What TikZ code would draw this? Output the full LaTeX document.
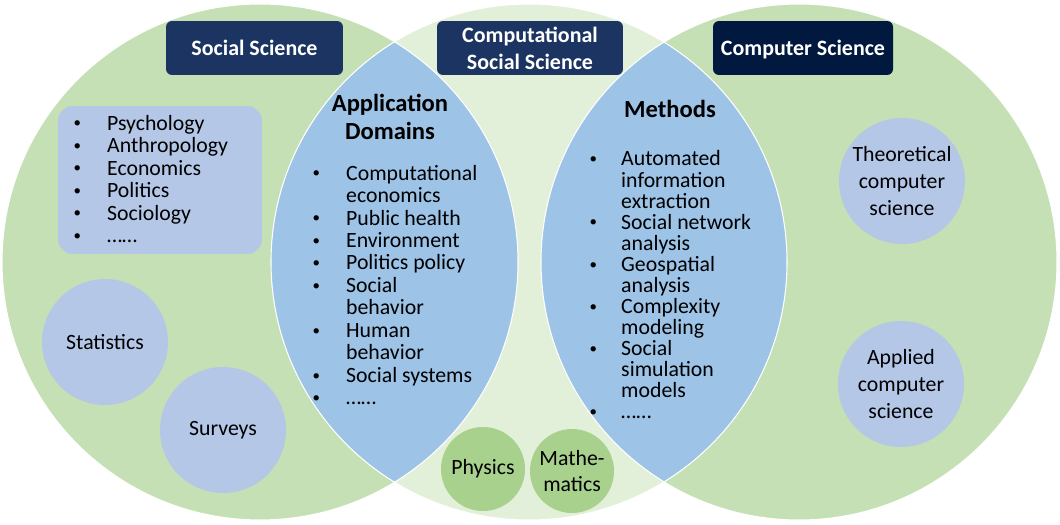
\documentclass[tikz,border=0pt]{standalone}
\usepackage{fontspec}
\setmainfont{Carlito}
\usepackage{xcolor}
\definecolor{VennGreen}{HTML}{C5E0B4}
\definecolor{VennPale}{HTML}{E2F0D9}
\definecolor{VennLens}{HTML}{9DC3E6}
\definecolor{VennBubble}{HTML}{B4C7E7}
\definecolor{VennLeaf}{HTML}{A9D18E}
\definecolor{VennNavy}{HTML}{1C3461}
\definecolor{VennInk}{HTML}{02193F}
\usepackage{tikz}
\usetikzlibrary{positioning}
\newlength\bulletw
\setlength\bulletw{20pt}
\newcommand\bdot{\makebox[6.2pt]{\raisebox{1.3pt}{\fontsize{8.5}{8.5}\selectfont\textbullet}}}
\newcommand\bitem[1]{\makebox[\bulletw][l]{\bdot}#1}
\newcommand\bcont[1]{\hspace*{\bulletw}#1}
\tikzset{
  vhead/.style={fill=VennNavy,rounded corners=3.4pt,text=white,font=\fontsize{12.5}{15.3}\selectfont\bfseries,align=center,minimum height=1.08cm,inner sep=2pt},
  vpanel/.style={fill=VennBubble,rounded corners=0.3cm,minimum width=4.08cm,minimum height=2.96cm,inner sep=0pt},
  vbubble/.style={circle,fill=VennBubble,minimum size=2.52cm,inner sep=0pt,align=center,font=\fontsize{12.4}{15.3}\selectfont},
  vleaf/.style={circle,fill=VennLeaf,minimum size=1.68cm,inner sep=0pt,align=center,font=\fontsize{12.4}{14.7}\selectfont},
  vlist/.style={anchor=west,align=left,inner sep=0pt,font=\fontsize{12.4}{12.8}\selectfont},
  vtitle/.style={align=center,font=\fontsize{14}{16.4}\selectfont\bfseries},
  vring/.style={draw=white,line width=0.6pt}
}
\begin{document}
\begin{tikzpicture}[x=0.02cm,y=-0.02cm]
  \useasboundingbox (0,0) rectangle (1060,524);
  \coordinate (cL) at (260,262);
  \coordinate (cM) at (529,262);
  \coordinate (cR) at (799,262);
  % three fields
  \fill[VennGreen] (cL) circle (258);
  \fill[VennGreen] (cR) circle (258);
  \fill[VennPale] (cM) circle (258);
  \begin{scope}
    \clip (cL) circle (258);
    \fill[VennLens] (cM) circle (258);
  \end{scope}
  \begin{scope}
    \clip (cR) circle (258);
    \fill[VennLens] (cM) circle (258);
  \end{scope}
  \draw[vring] (cL) circle (258);
  \draw[vring] (cR) circle (258);
  \draw[vring] (cM) circle (258);
  % headings
  \node[vhead,minimum width=3.54cm] (soc) at (254.5,48) {Social Science};
  \node[vhead,minimum width=3.72cm] (css) at (530,48) {Computational\\Social Science};
  \node[vhead,fill=VennInk,minimum width=3.6cm,text depth=0pt] (cs) at (803,48) {Computer Science};
  % social science side
  \node[vpanel] (discpanel) at (160,180) {};
  \node[vlist,font={\fontsize{12.4}{12.8}\selectfont\setlength\bulletw{20.1pt}}] (disclist) at (71.5,179) {%
    \bitem{Psychology}\\ \bitem{Anthropology}\\ \bitem{Economics}\\
    \bitem{Politics}\\ \bitem{Sociology}\\ \bitem{……}};
  \node[vbubble] (stat) at (105,342) {Statistics};
  \node[vbubble] (surv) at (223,430) {Surveys};
  % application domains
  \node[vtitle] (apptitle) at (390,117) {Application\\Domains};
  \node[vlist,font={\fontsize{12.4}{12.8}\selectfont\setlength\bulletw{20.1pt}}] (applist) at (310.5,285) {%
    \bitem{Computational}\\ \bcont{economics}\\ \bitem{Public health}\\
    \bitem{Environment}\\ \bitem{Politics policy}\\ \bitem{Social}\\
    \bcont{behavior}\\ \bitem{Human}\\ \bcont{behavior}\\
    \bitem{Social systems}\\ \bitem{……}};
  % methods
  \node[vtitle] (methtitle) at (670,109) {Methods};
  \node[vlist,font={\fontsize{12.4}{12}\selectfont\setlength\bulletw{19pt}}] (methlist) at (587.5,285) {%
    \bitem{Automated}\\ \bcont{information}\\ \bcont{extraction}\\
    \bitem{Social network}\\ \bcont{analysis}\\ \bitem{Geospatial}\\
    \bcont{analysis}\\ \bitem{Complexity}\\ \bcont{modeling}\\
    \bitem{Social}\\ \bcont{simulation}\\ \bcont{models}\\ \bitem{……}};
  % computer science side
  \node[vbubble] (theo) at (902,181) {Theoretical\\computer\\science};
  \node[vbubble] (appl) at (901,384) {Applied\\computer\\science};
  % shared roots
  \node[vleaf] (phys) at (483,469) {Physics};
  \node[vleaf] (math) at (572,471) {Mathe-\\matics};
\end{tikzpicture}
\end{document}
